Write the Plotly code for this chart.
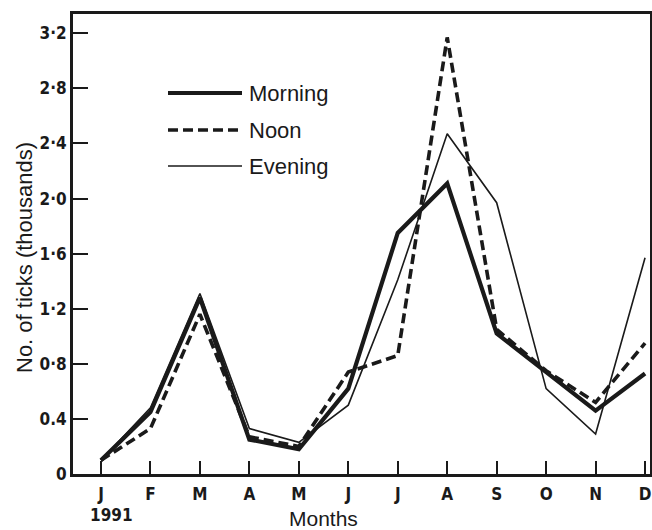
import plotly.graph_objects as go

months = ["J", "F", "M", "A", "M", "J", "J", "A", "S", "O", "N", "D"]
yticks = [0, 0.4, 0.8, 1.2, 1.6, 2.0, 2.4, 2.8, 3.2]
ytick_labels = ["0", "0.4", "0·8", "1·2", "1·6", "2·0", "2·4", "2·8", "3·2"]
morning = [0.10, 0.45, 1.28, 0.25, 0.18, 0.62, 1.75, 2.11, 1.02, 0.74, 0.46, 0.73]
noon = [0.10, 0.33, 1.16, 0.27, 0.20, 0.74, 0.86, 3.17, 1.05, 0.75, 0.52, 0.95]
evening = [0.10, 0.48, 1.31, 0.33, 0.23, 0.50, 1.41, 2.47, 1.97, 0.62, 0.29, 1.57]

W, H = 652, 530
L, R, T, B = 73, 650, 14, 474


def px(x):
    return (x - L) / (R - L)


def py(y):
    return (B - y) / (B - T)


xs = list(range(len(months)))
ink = "#1a1a1a"
fig = go.Figure()
fig.add_trace(go.Scatter(x=xs, y=morning, mode="lines", name="Morning",
                         line=dict(color=ink, width=4.2)))
fig.add_trace(go.Scatter(x=xs, y=noon, mode="lines", name="Noon",
                         line=dict(color=ink, width=3.6, dash="10px,5px")))
fig.add_trace(go.Scatter(x=xs, y=evening, mode="lines", name="Evening",
                         line=dict(color=ink, width=1.6)))

tickfont = dict(family="Liberation Sans Narrow, DejaVu Sans Condensed, Arial", size=17,
                color=ink, weight="bold")
labfont = dict(family="Liberation Sans, Arial, Helvetica", size=22, color=ink)
monthsfont = dict(family="Liberation Sans, Arial, Helvetica", size=21, color=ink)

shapes = []
annotations = []
legend_items = [("Morning", 4.2, "solid", 93), ("Noon", 3.6, "10px,5px", 130),
                ("Evening", 1.6, "solid", 166)]
for name, w, dash, yy in legend_items:
    shapes.append(dict(type="line", xref="paper", yref="paper",
                       x0=px(168), x1=px(242), y0=py(yy), y1=py(yy),
                       line=dict(color=ink, width=w, dash=dash)))
    annotations.append(dict(text=name, xref="paper", yref="paper", x=px(247), y=py(yy),
                            xanchor="left", yanchor="middle", showarrow=False, font=labfont))

annotations.append(dict(text="1991", xref="paper", yref="paper", x=px(111), y=py(515),
                        xanchor="center", yanchor="middle", showarrow=False, font=tickfont))
annotations.append(dict(text="Months", xref="paper", yref="paper", x=px(323), y=py(518),
                        xanchor="center", yanchor="middle", showarrow=False, font=monthsfont))
annotations.append(dict(text="No. of ticks (thousands)", xref="paper", yref="paper",
                        x=px(24), y=py(258), xanchor="center", yanchor="middle",
                        textangle=-90, showarrow=False, font=labfont))

fig.update_layout(
    width=W, height=H,
    margin=dict(l=L, r=W - R, t=T, b=H - B, autoexpand=False),
    paper_bgcolor="white", plot_bgcolor="white",
    showlegend=False,
    shapes=shapes, annotations=annotations,
    xaxis=dict(range=[-0.566, 11.10], tickvals=xs, ticktext=months,
               ticks="inside", ticklen=13, tickwidth=2, tickcolor=ink,
               showline=True, linewidth=3, linecolor=ink, mirror=True,
               showgrid=False, zeroline=False, tickfont=tickfont, ticklabelstandoff=3),
    yaxis=dict(range=[0, 3.34], tickvals=yticks, ticktext=ytick_labels,
               ticks="inside", ticklen=15, tickwidth=2, tickcolor=ink,
               showline=True, linewidth=3, linecolor=ink, mirror=True,
               showgrid=False, zeroline=False, tickfont=tickfont, ticklabelstandoff=0),
)

fig.write_html("out.html", config={"displayModeBar": False},
               post_script="document.body.style.margin='0';")
